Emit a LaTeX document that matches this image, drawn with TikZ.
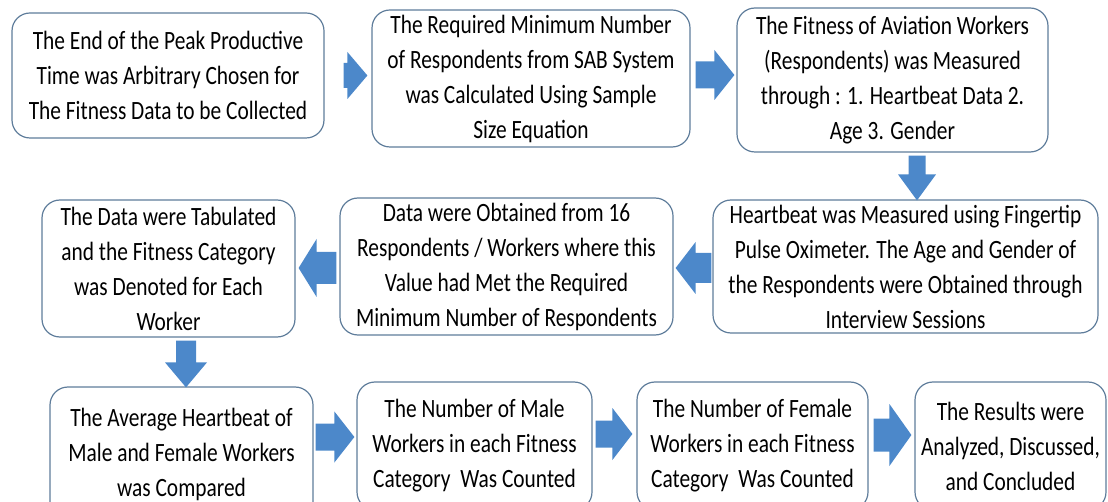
\documentclass[tikz,border=0pt]{standalone}
\usepackage{fontspec}
\setmainfont{Carlito}[FakeStretch=0.81]
\usepackage{tikz}
\usepackage{xcolor}
\usetikzlibrary{positioning, calc}

\definecolor{boxline}{RGB}{95,125,155}
\definecolor{arrowblue}{RGB}{76,136,202}
\newcommand{\flowfont}{\fontsize{26.4}{35}\selectfont}
% block arrow: tail, tip, half shaft, half head, head length
\newcommand{\blockarrow}[5]{%
	\fill[arrowblue] ($(#1)!#3!90:(#2)$) -- ($(#2)!#5!(#1)!#3!-90:(#1)$) -- ($(#2)!#5!(#1)!#4!-90:(#1)$) -- (#2)
		-- ($(#2)!#5!(#1)!#4!90:(#1)$) -- ($(#2)!#5!(#1)!#3!90:(#1)$) -- ($(#1)!#3!-90:(#2)$) -- cycle;
}

\tikzset{
	stepbox/.style={draw=boxline, line width=1.2pt, rounded corners=18pt, align=center, inner sep=0pt, font=\flowfont, fill=white}
}

\begin{document}
\begin{tikzpicture}[x=1pt, y=-1pt]
	\useasboundingbox (0,0) rectangle (1108,502);
	\clip (0,0) rectangle (1108,502);

	\node[stepbox, minimum width=312pt, minimum height=125pt] (chosen) at (168,75.5) {The End of the Peak Productive\\Time was Arbitrary Chosen for\\The Fitness Data to be Collected};
	\node[stepbox, minimum width=318pt, minimum height=137pt] (sample) at (531,78.5) {The Required Minimum Number\\of Respondents from SAB System\\was Calculated Using Sample\\Size Equation};
	\node[stepbox, minimum width=311pt, minimum height=144pt] (measured) at (892.5,80) {The Fitness of Aviation Workers\\(Respondents) was Measured\\through : 1. Heartbeat Data 2.\\Age 3. Gender};

	\node[stepbox, minimum width=385pt, minimum height=133pt] (oximeter) at (905.5,266.5) {Heartbeat was Measured using Fingertip\\Pulse Oximeter. The Age and Gender of\\the Respondents were Obtained through\\Interview Sessions};
	\node[stepbox, minimum width=333pt, minimum height=137pt] (obtained) at (506.5,266.5) {Data were Obtained from 16\\Respondents / Workers where this\\Value had Met the Required\\Minimum Number of Respondents};
	\node[stepbox, minimum width=253pt, minimum height=137pt] (tabulated) at (168.5,268.5) {The Data were Tabulated\\and the Fitness Category\\was Denoted for Each\\Worker};

	\node[stepbox, minimum width=263pt, minimum height=135pt] (average) at (181.5,454.5) {The Average Heartbeat of\\Male and Female Workers\\was Compared};
	\node[stepbox, minimum width=235pt, minimum height=128pt] (male) at (474.5,446) {The Number of Male\\Workers in each Fitness\\Category\ \ Was Counted};
	\node[stepbox, minimum width=231pt, minimum height=128pt] (female) at (752.5,446) {The Number of Female\\Workers in each Fitness\\Category\ \ Was Counted};
	\node[stepbox, minimum width=191pt, minimum height=128pt] (results) at (1010.5,446) {The Results were\\Analyzed, Discussed,\\and Concluded};

	% arrow ends
	\coordinate (t1) at ($(chosen.east)+(19,0)$);
	\coordinate (h1) at ($(chosen.east -| sample.west)+(-4,0)$);
	\coordinate (t2) at ($(sample.east)+(5,-3.5)$);
	\coordinate (h2) at ($(sample.east -| measured.west)+(-2,-3.5)$);
	\coordinate (t3) at ($(measured.south)+(24.5,3)$);
	\coordinate (h3) at ($(measured.south |- oximeter.north)+(24.5,1)$);
	\coordinate (t4) at ($(oximeter.west)+(-1,1.5)$);
	\coordinate (h4) at ($(oximeter.west -| obtained.east)+(2,1.5)$);
	\coordinate (t5) at ($(obtained.west)+(-3,1.5)$);
	\coordinate (h5) at ($(obtained.west -| tabulated.east)+(3,1.5)$);
	\coordinate (t6) at ($(tabulated.south)+(17.5,3)$);
	\coordinate (h6) at ($(tabulated.south |- average.north)+(17.5,1)$);
	\coordinate (t7) at ($(average.east)+(2,-17.5)$);
	\coordinate (h7) at ($(average.east -| male.west)+(-2,-17.5)$);
	\coordinate (t8) at ($(male.east)+(3,-12)$);
	\coordinate (h8) at ($(male.east -| female.west)+(-4,-12)$);
	\coordinate (t9) at ($(female.east)+(5,-11)$);
	\coordinate (h9) at ($(female.east -| results.west)+(-3,-11)$);

	\blockarrow{t1}{h1}{12.5pt}{23.5pt}{20pt}
	\blockarrow{t2}{h2}{13.5pt}{25pt}{20pt}
	\blockarrow{t3}{h3}{8.5pt}{19pt}{26pt}
	\blockarrow{t4}{h4}{15pt}{26pt}{20pt}
	\blockarrow{t5}{h5}{16pt}{29pt}{18pt}
	\blockarrow{t6}{h6}{10pt}{21pt}{25pt}
	\blockarrow{t7}{h7}{13.5pt}{25.5pt}{20pt}
	\blockarrow{t8}{h8}{13.5pt}{26pt}{20pt}
	\blockarrow{t9}{h9}{16.5pt}{31pt}{22pt}
\end{tikzpicture}
\end{document}
